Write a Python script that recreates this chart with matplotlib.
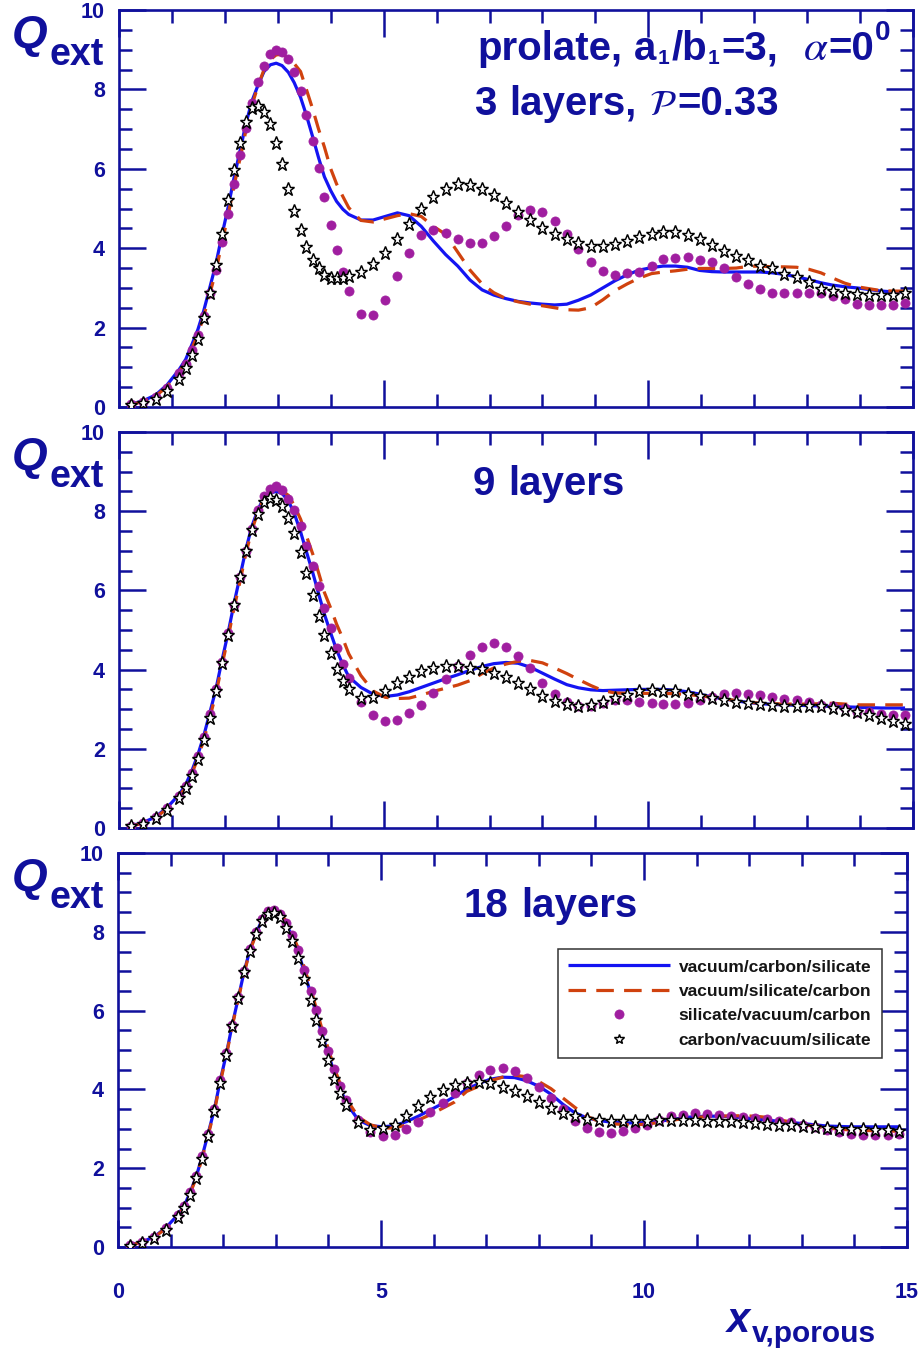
import matplotlib
matplotlib.use('Agg')
import matplotlib.pyplot as plt
from matplotlib.ticker import MultipleLocator

W, H, DPI = 922, 1354, 100

# ---------------- data ----------------
X = [0.23, 0.46, 0.69, 0.91, 1.14,
     1.26, 1.37, 1.49, 1.60, 1.71, 1.83, 1.94, 2.06, 2.17, 2.29,
     2.40, 2.51, 2.63, 2.74, 2.86, 2.97, 3.08, 3.20, 3.31, 3.43,
     3.54, 3.66, 3.77, 3.88, 4.00, 4.11, 4.23, 4.34,
     4.57, 4.80, 5.03, 5.26, 5.48, 5.71, 5.94, 6.17, 6.40, 6.63,
     6.86, 7.08, 7.31, 7.54, 7.77, 8.00, 8.23, 8.46, 8.68, 8.91,
     9.14, 9.37, 9.60, 9.83, 10.06, 10.28, 10.51, 10.74, 10.97, 11.20,
     11.43, 11.66, 11.88, 12.11, 12.34, 12.57, 12.80, 13.03, 13.26, 13.48,
     13.71, 13.94, 14.17, 14.40, 14.63, 14.85]

# 3 layers
top_vcs = [0.07, 0.16, 0.30, 0.56, 0.95,
           1.20, 1.55, 1.95, 2.42, 2.98, 3.60, 4.30, 5.02, 5.75, 6.48,
           7.15, 7.70, 8.12, 8.45, 8.62, 8.66, 8.60, 8.43, 8.17, 7.80,
           7.35, 6.80, 6.28, 5.80, 5.45, 5.18, 4.98, 4.85,
           4.71, 4.71, 4.80, 4.89, 4.82, 4.55, 4.18, 3.84, 3.55, 3.20,
           2.95, 2.82, 2.73, 2.66, 2.62, 2.59, 2.57, 2.59, 2.69, 2.82,
           3.00, 3.18, 3.33, 3.45, 3.51, 3.55, 3.55, 3.52, 3.44, 3.41,
           3.40, 3.40, 3.40, 3.40, 3.38, 3.34, 3.28, 3.21, 3.13, 3.07,
           3.03, 3.00, 2.96, 2.92, 2.90, 2.90]
top_vsc = [0.06, 0.14, 0.27, 0.52, 0.90,
           1.12, 1.45, 1.83, 2.28, 2.82, 3.42, 4.10, 4.82, 5.55, 6.28,
           6.98, 7.60, 8.10, 8.50, 8.75, 8.87, 8.88, 8.80, 8.65, 8.45,
           8.00, 7.50, 7.00, 6.55, 6.00, 5.62, 5.30, 5.02,
           4.70, 4.66, 4.74, 4.82, 4.87, 4.80, 4.55, 4.35, 3.90, 3.45,
           3.10, 2.88, 2.73, 2.65, 2.59, 2.55, 2.50, 2.45, 2.44, 2.50,
           2.70, 2.93, 3.10, 3.25, 3.36, 3.40, 3.43, 3.47, 3.49, 3.49,
           3.49, 3.50, 3.54, 3.55, 3.53, 3.53, 3.52, 3.47, 3.38, 3.25,
           3.12, 3.03, 2.98, 2.93, 2.92, 2.92]
top_svc = [0.07, 0.13, 0.25, 0.49, 0.86,
           1.09, 1.43, 1.82, 2.29, 2.86, 3.46, 4.16, 4.87, 5.61, 6.34,
           7.02, 7.67, 8.19, 8.59, 8.89, 8.99, 8.93, 8.76, 8.45, 7.96,
           7.35, 6.71, 6.03, 5.29, 4.58, 3.95, 3.40, 2.92,
           2.35, 2.31, 2.69, 3.29, 3.89, 4.33, 4.45, 4.39, 4.24, 4.12,
           4.14, 4.31, 4.56, 4.83, 4.96, 4.91, 4.69, 4.37, 3.97, 3.66,
           3.43, 3.32, 3.38, 3.40, 3.55, 3.72, 3.76, 3.78, 3.71, 3.66,
           3.49, 3.28, 3.09, 2.96, 2.88, 2.87, 2.87, 2.88, 2.87, 2.80,
           2.71, 2.59, 2.58, 2.56, 2.56, 2.61]
top_cvs = [0.04, 0.10, 0.21, 0.40, 0.71,
           0.97, 1.30, 1.72, 2.23, 2.86, 3.57, 4.37, 5.21, 5.97, 6.64,
           7.18, 7.52, 7.58, 7.44, 7.14, 6.66, 6.11, 5.50, 4.94, 4.45,
           4.02, 3.70, 3.49, 3.32, 3.26, 3.25, 3.26, 3.29,
           3.40, 3.60, 3.87, 4.22, 4.61, 4.98, 5.29, 5.50, 5.62, 5.59,
           5.50, 5.34, 5.15, 4.92, 4.71, 4.51, 4.35, 4.22, 4.12, 4.06,
           4.06, 4.10, 4.18, 4.29, 4.37, 4.41, 4.41, 4.33, 4.24, 4.08,
           3.93, 3.80, 3.70, 3.55, 3.49, 3.34, 3.28, 3.15, 2.98, 2.92,
           2.87, 2.84, 2.83, 2.83, 2.83, 2.87]

# 9 layers
mid_vcs = [0.06, 0.14, 0.28, 0.52, 0.85,
           1.10, 1.42, 1.85, 2.32, 2.88, 3.50, 4.20, 4.92, 5.65, 6.38,
           7.05, 7.62, 8.05, 8.35, 8.46, 8.50, 8.45, 8.26, 7.95, 7.48,
           6.98, 6.45, 5.92, 5.40, 4.92, 4.50, 4.12, 3.82,
           3.55, 3.38, 3.32, 3.36, 3.44, 3.55, 3.66, 3.77, 3.87, 3.98,
           4.08, 4.15, 4.18, 4.16, 4.06, 3.91, 3.76, 3.62, 3.54, 3.49,
           3.47, 3.48, 3.49, 3.50, 3.50, 3.50, 3.48, 3.44, 3.38, 3.31,
           3.26, 3.21, 3.17, 3.14, 3.12, 3.11, 3.10, 3.09, 3.08, 3.07,
           3.06, 3.05, 3.04, 3.03, 3.03, 3.03]
mid_vsc = [0.05, 0.12, 0.26, 0.49, 0.80,
           1.04, 1.35, 1.76, 2.22, 2.76, 3.38, 4.08, 4.80, 5.53, 6.25,
           6.95, 7.52, 8.00, 8.33, 8.45, 8.52, 8.52, 8.40, 8.15, 7.80,
           7.38, 6.92, 6.45, 5.95, 5.55, 5.15, 4.78, 4.40,
           3.85, 3.46, 3.30, 3.27, 3.28, 3.36, 3.45, 3.53, 3.61, 3.72,
           3.90, 4.04, 4.14, 4.21, 4.23, 4.17, 4.04, 3.90, 3.75, 3.60,
           3.47, 3.41, 3.40, 3.40, 3.40, 3.40, 3.39, 3.37, 3.34, 3.30,
           3.26, 3.22, 3.18, 3.15, 3.14, 3.13, 3.13, 3.13, 3.14, 3.15,
           3.13, 3.11, 3.11, 3.11, 3.11, 3.11]
mid_svc = [0.06, 0.13, 0.28, 0.50, 0.80,
           1.07, 1.39, 1.82, 2.31, 2.88, 3.50, 4.20, 4.92, 5.63, 6.34,
           7.00, 7.56, 8.03, 8.38, 8.57, 8.63, 8.53, 8.32, 8.04, 7.62,
           7.12, 6.62, 6.12, 5.56, 5.04, 4.55, 4.13, 3.78,
           3.17, 2.86, 2.71, 2.73, 2.90, 3.11, 3.40, 3.76, 4.08, 4.37,
           4.58, 4.66, 4.56, 4.35, 4.03, 3.67, 3.39, 3.17, 3.08, 3.09,
           3.15, 3.22, 3.22, 3.19, 3.15, 3.13, 3.13, 3.15, 3.24, 3.30,
           3.39, 3.42, 3.39, 3.36, 3.32, 3.25, 3.22, 3.18, 3.11, 3.07,
           3.03, 2.94, 2.92, 2.88, 2.86, 2.86]
mid_cvs = [0.04, 0.11, 0.24, 0.45, 0.76,
           1.01, 1.32, 1.74, 2.21, 2.77, 3.45, 4.16, 4.87, 5.63, 6.34,
           7.00, 7.52, 7.94, 8.24, 8.34, 8.29, 8.13, 7.83, 7.45, 6.97,
           6.43, 5.88, 5.35, 4.87, 4.41, 4.01, 3.70, 3.50,
           3.28, 3.32, 3.47, 3.66, 3.82, 3.97, 4.03, 4.08, 4.09, 4.03,
           4.01, 3.92, 3.82, 3.66, 3.50, 3.34, 3.21, 3.13, 3.09, 3.11,
           3.18, 3.28, 3.36, 3.45, 3.49, 3.47, 3.45, 3.39, 3.34, 3.28,
           3.24, 3.19, 3.15, 3.13, 3.11, 3.09, 3.08, 3.08, 3.07, 3.03,
           2.98, 2.92, 2.86, 2.79, 2.71, 2.63]

# 18 layers
bot_vcs = [0.06, 0.13, 0.26, 0.49, 0.82,
           1.05, 1.38, 1.80, 2.30, 2.86, 3.48, 4.20, 4.90, 5.63, 6.34,
           7.00, 7.55, 7.98, 8.30, 8.47, 8.52, 8.44, 8.20, 7.88, 7.48,
           6.98, 6.45, 5.92, 5.40, 4.90, 4.42, 4.00, 3.66,
           3.22, 3.08, 3.05, 3.08, 3.18, 3.32, 3.48, 3.64, 3.82, 4.00,
           4.15, 4.26, 4.31, 4.30, 4.22, 4.08, 3.88, 3.62, 3.41, 3.28,
           3.21, 3.17, 3.15, 3.15, 3.16, 3.19, 3.23, 3.28, 3.31, 3.32,
           3.32, 3.31, 3.28, 3.25, 3.22, 3.19, 3.16, 3.13, 3.10, 3.07,
           3.06, 3.05, 3.05, 3.05, 3.05, 3.05]
bot_vsc = [0.05, 0.12, 0.25, 0.47, 0.79,
           1.02, 1.35, 1.77, 2.26, 2.82, 3.44, 4.15, 4.86, 5.60, 6.31,
           6.97, 7.52, 7.96, 8.28, 8.47, 8.53, 8.47, 8.27, 7.95, 7.57,
           7.10, 6.58, 6.05, 5.52, 5.02, 4.55, 4.12, 3.76,
           3.30, 3.10, 3.02, 3.02, 3.10, 3.22, 3.36, 3.52, 3.68, 3.95,
           4.08, 4.22, 4.31, 4.36, 4.32, 4.20, 4.02, 3.78, 3.55, 3.32,
           3.19, 3.13, 3.11, 3.10, 3.12, 3.16, 3.21, 3.26, 3.29, 3.31,
           3.32, 3.33, 3.33, 3.32, 3.29, 3.23, 3.17, 3.11, 3.06, 3.02,
           2.99, 2.97, 2.96, 2.95, 2.94, 2.94]
bot_svc = [0.06, 0.13, 0.25, 0.48, 0.80,
           1.03, 1.39, 1.81, 2.32, 2.88, 3.50, 4.23, 4.92, 5.64, 6.35,
           7.01, 7.56, 7.99, 8.32, 8.52, 8.56, 8.46, 8.22, 7.93, 7.55,
           7.04, 6.49, 6.01, 5.47, 4.97, 4.52, 4.08, 3.74,
           3.23, 2.91, 2.81, 2.85, 3.00, 3.16, 3.42, 3.65, 3.91, 4.15,
           4.37, 4.50, 4.54, 4.46, 4.29, 4.05, 3.78, 3.50, 3.19, 3.02,
           2.92, 2.89, 2.94, 3.02, 3.10, 3.23, 3.32, 3.36, 3.40, 3.38,
           3.36, 3.33, 3.30, 3.27, 3.25, 3.21, 3.16, 3.10, 3.05, 2.98,
           2.91, 2.88, 2.85, 2.85, 2.85, 2.88]
bot_cvs = [0.03, 0.10, 0.23, 0.44, 0.76,
           0.99, 1.33, 1.75, 2.23, 2.81, 3.44, 4.16, 4.88, 5.62, 6.32,
           6.97, 7.52, 7.94, 8.27, 8.46, 8.48, 8.38, 8.10, 7.76, 7.34,
           6.80, 6.28, 5.75, 5.24, 4.74, 4.26, 3.91, 3.61,
           3.16, 2.96, 3.02, 3.10, 3.33, 3.59, 3.81, 3.99, 4.12, 4.16,
           4.20, 4.16, 4.06, 3.95, 3.82, 3.67, 3.53, 3.40, 3.32, 3.26,
           3.23, 3.21, 3.21, 3.21, 3.21, 3.23, 3.23, 3.23, 3.23, 3.21,
           3.21, 3.19, 3.17, 3.15, 3.13, 3.10, 3.09, 3.06, 3.05, 3.02,
           3.00, 3.00, 2.99, 2.98, 2.96, 2.94]

series_labels = ["vacuum/carbon/silicate", "vacuum/silicate/carbon",
                 "silicate/vacuum/carbon", "carbon/vacuum/silicate"]
y_ticks = [0, 2, 4, 6, 8, 10]
y_tick_labels = ["0", "2", "4", "6", "8", "10"]
x_ticks = [0, 5, 10, 15]
x_tick_labels = ["0", "5", "10", "15"]

# ---------------- style ----------------
NAVY = '#10109c'
BLUE = '#1414f2'
RED = '#d0420e'
PURPLE = '#a01ea0'

plt.rcParams['font.family'] = ['Liberation Sans', 'DejaVu Sans']

fig = plt.figure(figsize=(W / DPI, H / DPI), dpi=DPI)
fig.patch.set_facecolor('white')


def px_axes(l, r, t, b):
    return fig.add_axes([l / W, 1 - b / H, (r - l) / W, (b - t) / H])


panels = [
    ((119, 913, 10, 407), (top_vcs, top_vsc, top_svc, top_cvs)),
    ((119, 913, 432, 828), (mid_vcs, mid_vsc, mid_svc, mid_cvs)),
    ((118, 907, 853, 1247), (bot_vcs, bot_vsc, bot_svc, bot_cvs)),
]

axes = []
for i, (box, (vcs, vsc, svc, cvs)) in enumerate(panels):
    ax = px_axes(*box)
    axes.append(ax)
    ax.plot(X, vcs, color=BLUE, lw=2.3, solid_capstyle='butt', zorder=3,
            label=series_labels[0])
    ax.plot(X, vsc, color=RED, lw=2.3, dashes=(5.5, 3.2), zorder=3,
            label=series_labels[1])
    ax.plot(X, svc, ls='none', marker='o', ms=6.6, mfc=PURPLE, mec=PURPLE,
            mew=0.5, zorder=4, label=series_labels[2])
    ax.plot(X, cvs, ls='none', marker='*', ms=9.8, mfc='white', mec='black',
            mew=1.05, zorder=5, label=series_labels[3])

    ax.set_xlim(0, 15)
    ax.set_ylim(0, 10)
    ax.xaxis.set_major_locator(MultipleLocator(5))
    ax.xaxis.set_minor_locator(MultipleLocator(1))
    ax.yaxis.set_minor_locator(MultipleLocator(0.5))
    ax.tick_params(which='both', direction='in', top=True, right=True,
                   color=NAVY, width=1.8, labelcolor=NAVY, labelsize=15.5)
    ax.tick_params(which='major', length=19.5)
    ax.tick_params(which='minor', length=9.5)
    ax.tick_params(axis='y', pad=10)
    ax.set_yticks(y_ticks, labels=y_tick_labels, fontsize=15.5, fontweight='bold')
    for sp in ax.spines.values():
        sp.set_color(NAVY)
        sp.set_linewidth(1.9)
    if i == 2:
        ax.tick_params(axis='x', pad=25)
        ax.set_xticks(x_ticks, labels=x_tick_labels, fontsize=15.5, fontweight='bold')
    else:
        ax.set_xticks(x_ticks)
        ax.tick_params(axis='x', labelbottom=False)

    # Q_ext label
    t0 = box[2]
    fig.text(12 / W, 1 - (t0 + 38) / H, "Q", fontsize=33, fontweight='bold',
             fontstyle='italic', color=NAVY, ha='left', va='baseline')
    fig.text(49 / W, 1 - (t0 + 55) / H, "ext", fontsize=27, fontweight='bold',
             color=NAVY, ha='left', va='baseline')

# legend in bottom panel
leg = axes[2].legend(loc='upper left', bbox_to_anchor=(558 / W, 1 - 949 / H),
                     bbox_transform=fig.transFigure, borderaxespad=0,
                     prop=dict(size=12.5, weight='bold'), frameon=True,
                     fancybox=False, framealpha=1, edgecolor='#333333',
                     borderpad=0.6, handlelength=5.85, handletextpad=0.5,
                     labelspacing=0.53, numpoints=1)
leg.get_frame().set_linewidth(1.1)
leg.set_zorder(10)
for txt in leg.get_texts():
    txt.set_color('#151515')
leg.legend_handles[3].set_markersize(7.5)

# rich text helper
renderer = fig.canvas.get_renderer()


def rich(x_px, y_px, segs):
    x = x_px
    for s, kw, dy, gap in segs:
        t = fig.text(x / W, 1 - (y_px + dy) / H, s, ha='left', va='baseline',
                     color=NAVY, **kw)
        x += t.get_window_extent(renderer).width + gap


BIG = dict(fontsize=29, fontweight='bold')
SUB = dict(fontsize=15, fontweight='bold')
SUP = dict(fontsize=20, fontweight='bold')
MATH = dict(fontsize=31, math_fontfamily='stix')
CAL = dict(fontsize=26, math_fontfamily='stix')

rich(477, 60, [("prolate,", BIG, 0, 12), ("a", BIG, 0, 1), ("1", SUB, 4, 2),
               ("/b", BIG, 0, 1), ("1", SUB, 4, 2), ("=3,", BIG, 0, 24),
               (r"$\alpha$", MATH, 0, 0), ("=0", BIG, 0, 1), ("0", SUP, -20, 0)])
rich(474, 115, [("3", BIG, 0, 13), ("layers,", BIG, 0, 12),
                (r"$\mathcal{P}$", CAL, 0, 1), ("=0.33", BIG, 0, 0)])
rich(473, 495, [("9", BIG, 0, 13), ("layers", BIG, 0, 0)])
rich(463, 917, [("18", BIG, 0, 13), ("layers", BIG, 0, 0)])

# x axis label
rich(727, 1332, [("x", dict(fontsize=30, fontweight='bold', fontstyle='italic'), 0, 2),
                 ("v,porous", dict(fontsize=21.5, fontweight='bold'), 10, 0)])

fig.savefig('out.png', dpi=DPI)
